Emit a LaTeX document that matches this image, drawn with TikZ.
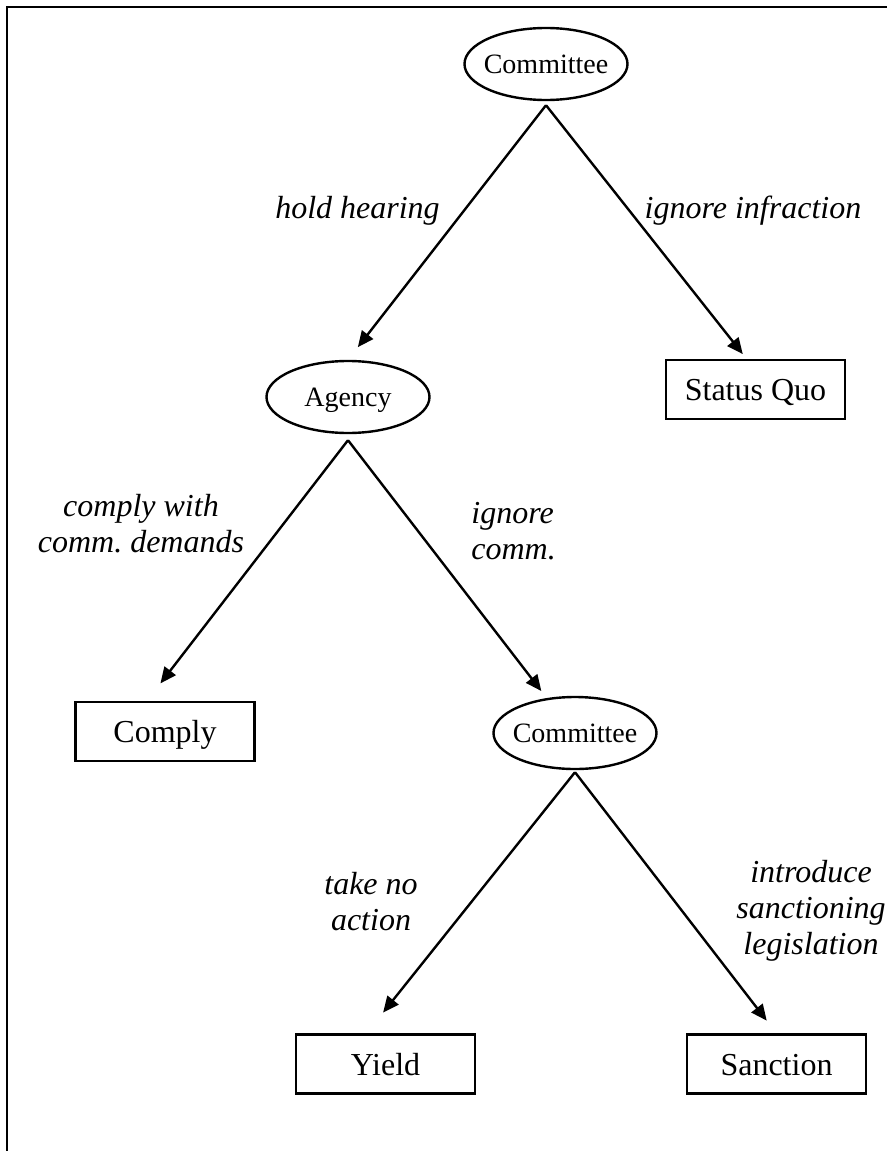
\documentclass[tikz,border=0pt]{standalone}
\usepackage{fontspec}
\setmainfont{Liberation Serif}
\usetikzlibrary{arrows.meta,shapes.geometric}

\begin{document}
\begin{tikzpicture}[x=0.5pt, y=-0.5pt,
	player/.style={ellipse, draw, line width=1.2pt, minimum width=81.5pt, minimum height=36pt, inner sep=0pt},
	every label/.style={font=\fontsize{14}{16}\selectfont, text height=9.8pt, text depth=0pt, inner sep=0pt},
	outcome/.style={rectangle, draw, line width=1.2pt, minimum width=89.5pt, minimum height=29.5pt, font=\fontsize{16}{18}\selectfont, text height=11pt, text depth=0pt},
	move/.style={font=\fontsize{16}{18}\selectfont\itshape, inner sep=0pt, align=center},
	arr/.style={-{Triangle[length=8pt,width=7pt]}, line width=1.2pt}]
	\useasboundingbox (0,0) rectangle (887,1151);
	\draw[line width=1.2pt] (7,1160) -- (7,7) -- (895,7);

	% decision nodes
	\node[player, label=center:Committee] (c1) at (546,64) {};
	\node[player, label=center:Agency] (agency) at (348,397) {};
	\node[player, label=center:Committee] (c2) at (575,733) {};

	% outcomes
	\node[outcome] (quo) at (755.5,389.5) {Status Quo};
	\node[outcome] (comply) at (165,731.5) {Comply};
	\node[outcome] (yield) at (385.5,1064) {Yield};
	\node[outcome] (sanction) at (776.5,1064) {Sanction};

	% moves
	\foreach \from/\to/\dx/\sa/\sb in {c1/agency/0/2/8, c1/quo/-4.5/2/3, agency/comply/-9/3/11,
		agency/c2/-15/3/3, c2/yield/-9.5/1/13.3, c2/sanction/0/1/8}
		\draw[arr, line join=miter, shorten >=\sb pt] ([yshift=-\sa pt]\from.south) -- ([xshift=\dx pt]\to.north);

	\node[move, anchor=base] (hold) at (357.5,218) {hold hearing};
	\node[move, anchor=base] (ignore) at (753,218) {ignore infraction};
	\node[move] (obey) at (141,524) {comply with\\comm.\ demands};
	\node[move, anchor=west, align=left] (defy) at (471,531) {ignore\\comm.};
	\node[move] (noact) at (371,901.5) {take no\\action};
	\node[move] (legis) at (811,911) {introduce\\sanctioning\\legislation};
\end{tikzpicture}
\end{document}
